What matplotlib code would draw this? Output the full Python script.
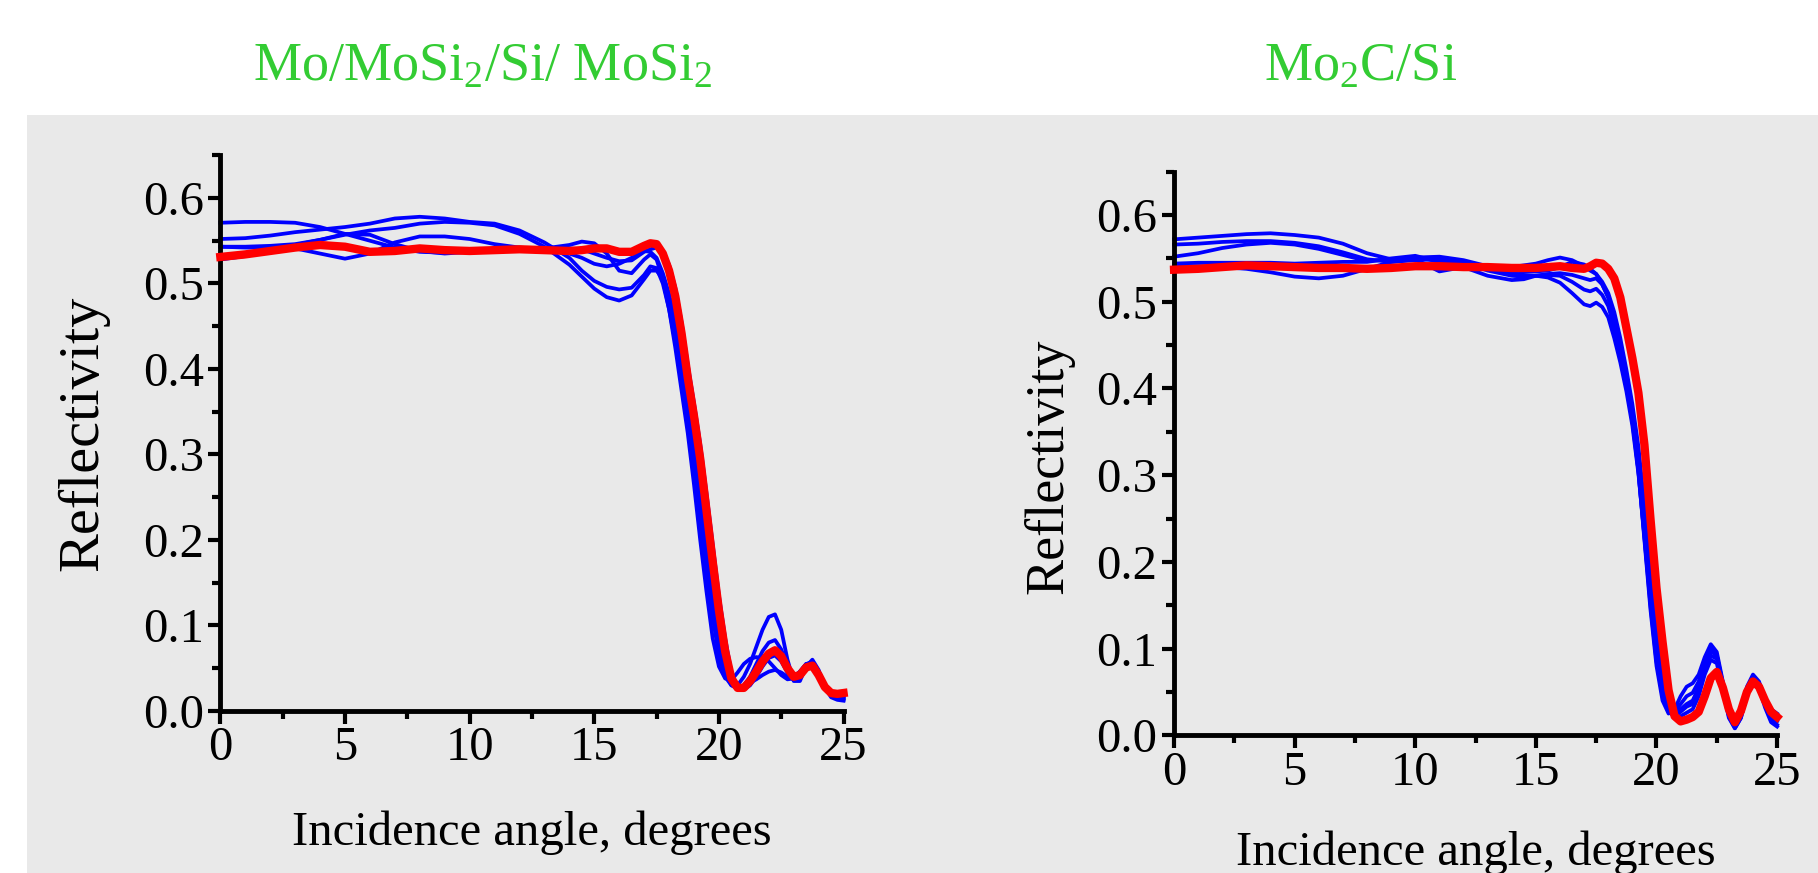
import matplotlib.pyplot as plt
from matplotlib.patches import Rectangle
from matplotlib.ticker import MultipleLocator

# Times-like font for everything, subscripts through mathtext
plt.rcParams['font.family'] = ['Liberation Serif', 'DejaVu Serif']
plt.rcParams['mathtext.fontset'] = 'custom'
plt.rcParams['mathtext.rm'] = 'Liberation Serif'
plt.rcParams['mathtext.it'] = 'Liberation Serif'
plt.rcParams['mathtext.bf'] = 'Liberation Serif'

# Incidence angles (degrees), same grid for both panels
angles = [0, 1, 2, 3, 4, 5, 6, 7, 8, 9, 10, 11, 12, 13, 14,
          14.5, 15, 15.5, 16, 16.5, 17,
          17.25, 17.5, 17.75, 18, 18.25, 18.5, 18.75, 19,
          19.25, 19.5, 19.75, 20, 20.25, 20.5, 20.75, 21,
          21.25, 21.5, 21.75, 22, 22.25, 22.5, 22.75, 23,
          23.25, 23.5, 23.75, 24, 24.25, 24.5, 24.75, 25]

# Left panel: Mo/MoSi2/Si/MoSi2
left_red = [0.531, 0.534, 0.538, 0.542, 0.545, 0.543, 0.537, 0.538, 0.541, 0.539, 0.538, 0.539, 0.540, 0.539, 0.538,
            0.539, 0.541, 0.541, 0.537, 0.537, 0.544,
            0.547, 0.546, 0.535, 0.515, 0.485, 0.442, 0.390, 0.345,
            0.295, 0.235, 0.175, 0.118, 0.070, 0.038, 0.027, 0.027,
            0.035, 0.046, 0.058, 0.067, 0.071, 0.064, 0.050, 0.040,
            0.042, 0.051, 0.053, 0.042, 0.028, 0.021, 0.020, 0.021]
left_blue_1 = [0.571, 0.572, 0.572, 0.571, 0.566, 0.558, 0.550, 0.542, 0.537, 0.536, 0.538, 0.539, 0.540, 0.541, 0.545,
               0.549, 0.547, 0.535, 0.515, 0.512, 0.528,
               0.534, 0.528, 0.505, 0.470, 0.425, 0.375, 0.325, 0.265,
               0.200, 0.140, 0.085, 0.052, 0.038, 0.036, 0.045, 0.055,
               0.061, 0.063, 0.062, 0.058, 0.050, 0.042, 0.037, 0.038,
               0.046, 0.055, 0.056, 0.045, 0.030, 0.018, 0.014, 0.013]
left_blue_2 = [0.552, 0.553, 0.556, 0.560, 0.563, 0.566, 0.570, 0.576, 0.578, 0.576, 0.572, 0.570, 0.562, 0.548, 0.530,
               0.515, 0.503, 0.496, 0.493, 0.495, 0.510,
               0.520, 0.518, 0.500, 0.470, 0.432, 0.385, 0.335, 0.285,
               0.225, 0.165, 0.110, 0.065, 0.040, 0.030, 0.030, 0.040,
               0.055, 0.075, 0.095, 0.110, 0.113, 0.095, 0.060, 0.035,
               0.035, 0.052, 0.060, 0.048, 0.028, 0.016, 0.013, 0.012]
left_blue_3 = [0.543, 0.543, 0.544, 0.546, 0.551, 0.557, 0.562, 0.565, 0.570, 0.572, 0.571, 0.568, 0.558, 0.543, 0.522,
               0.508, 0.494, 0.484, 0.480, 0.486, 0.505,
               0.515, 0.515, 0.505, 0.482, 0.450, 0.405, 0.355, 0.305,
               0.250, 0.190, 0.130, 0.080, 0.045, 0.030, 0.026, 0.030,
               0.040, 0.055, 0.070, 0.080, 0.083, 0.072, 0.052, 0.040,
               0.043, 0.054, 0.058, 0.046, 0.030, 0.020, 0.017, 0.016]
left_blue_4 = [0.528, 0.532, 0.539, 0.541, 0.535, 0.529, 0.535, 0.548, 0.555, 0.555, 0.552, 0.546, 0.542, 0.540, 0.535,
               0.530, 0.523, 0.520, 0.523, 0.530, 0.538,
               0.537, 0.530, 0.512, 0.488, 0.455, 0.415, 0.368, 0.322,
               0.270, 0.210, 0.150, 0.095, 0.055, 0.033, 0.026, 0.029,
               0.033, 0.037, 0.042, 0.046, 0.048, 0.045, 0.040, 0.040,
               0.046, 0.055, 0.057, 0.045, 0.030, 0.020, 0.017, 0.016]
left_blue_5 = [0.543, 0.542, 0.542, 0.545, 0.551, 0.558, 0.557, 0.546, 0.538, 0.535, 0.537, 0.539, 0.540, 0.541, 0.541,
               0.540, 0.535, 0.530, 0.526, 0.527, 0.537,
               0.540, 0.542, 0.537, 0.522, 0.495, 0.455, 0.405, 0.360,
               0.312, 0.255, 0.195, 0.135, 0.085, 0.045, 0.028, 0.025,
               0.030, 0.040, 0.052, 0.062, 0.065, 0.058, 0.045, 0.036,
               0.038, 0.050, 0.056, 0.046, 0.030, 0.019, 0.016, 0.015]

# Right panel: Mo2C/Si
right_red = [0.537, 0.538, 0.540, 0.542, 0.541, 0.540, 0.539, 0.539, 0.538, 0.539, 0.541, 0.541, 0.540, 0.540, 0.539,
             0.539, 0.539, 0.540, 0.541, 0.539, 0.538,
             0.541, 0.545, 0.544, 0.538, 0.527, 0.505, 0.470, 0.435,
             0.395, 0.335, 0.250, 0.170, 0.108, 0.052, 0.022, 0.016,
             0.018, 0.021, 0.027, 0.045, 0.066, 0.073, 0.055, 0.030,
             0.015, 0.028, 0.050, 0.062, 0.056, 0.040, 0.027, 0.021]
right_blue_1 = [0.572, 0.574, 0.576, 0.578, 0.579, 0.577, 0.574, 0.567, 0.556, 0.549, 0.551, 0.552, 0.548, 0.541, 0.536,
                0.535, 0.535, 0.536, 0.540, 0.546, 0.543,
                0.538, 0.532, 0.520, 0.505, 0.480, 0.448, 0.412, 0.368,
                0.305, 0.225, 0.145, 0.080, 0.040, 0.025, 0.030, 0.045,
                0.056, 0.060, 0.070, 0.090, 0.105, 0.096, 0.062, 0.028,
                0.013, 0.028, 0.056, 0.070, 0.062, 0.042, 0.030, 0.025]
right_blue_2 = [0.566, 0.567, 0.569, 0.570, 0.570, 0.568, 0.564, 0.557, 0.549, 0.546, 0.548, 0.549, 0.545, 0.536, 0.530,
                0.529, 0.530, 0.531, 0.530, 0.523, 0.514,
                0.512, 0.515, 0.508, 0.495, 0.470, 0.440, 0.405, 0.362,
                0.305, 0.228, 0.150, 0.085, 0.045, 0.028, 0.027, 0.036,
                0.045, 0.049, 0.062, 0.085, 0.100, 0.092, 0.058, 0.024,
                0.010, 0.024, 0.052, 0.066, 0.058, 0.036, 0.020, 0.016]
right_blue_3 = [0.552, 0.556, 0.562, 0.566, 0.568, 0.566, 0.561, 0.554, 0.547, 0.549, 0.551, 0.547, 0.546, 0.540, 0.533,
                0.531, 0.530, 0.528, 0.522, 0.510, 0.497,
                0.495, 0.499, 0.494, 0.482, 0.458, 0.430, 0.397, 0.357,
                0.302, 0.230, 0.155, 0.088, 0.047, 0.027, 0.022, 0.027,
                0.033, 0.036, 0.050, 0.075, 0.092, 0.088, 0.055, 0.022,
                0.008, 0.020, 0.046, 0.060, 0.054, 0.032, 0.015, 0.010]
right_blue_4 = [0.544, 0.545, 0.545, 0.545, 0.545, 0.544, 0.545, 0.546, 0.546, 0.550, 0.553, 0.546, 0.545, 0.538, 0.540,
                0.542, 0.544, 0.548, 0.551, 0.548, 0.541,
                0.536, 0.532, 0.523, 0.510, 0.488, 0.458, 0.422, 0.382,
                0.333, 0.265, 0.185, 0.115, 0.062, 0.032, 0.024, 0.030,
                0.036, 0.040, 0.055, 0.080, 0.097, 0.092, 0.060, 0.027,
                0.012, 0.025, 0.052, 0.066, 0.060, 0.040, 0.026, 0.022]
right_blue_5 = [0.541, 0.541, 0.540, 0.538, 0.534, 0.529, 0.527, 0.530, 0.538, 0.546, 0.549, 0.535, 0.540, 0.530, 0.525,
                0.526, 0.530, 0.532, 0.533, 0.531, 0.527,
                0.525, 0.527, 0.520, 0.505, 0.482, 0.452, 0.415, 0.375,
                0.322, 0.250, 0.170, 0.102, 0.055, 0.030, 0.020, 0.022,
                0.026, 0.030, 0.045, 0.070, 0.087, 0.083, 0.052, 0.020,
                0.008, 0.020, 0.048, 0.062, 0.056, 0.036, 0.018, 0.012]

left_title = r'Mo/MoSi$_2$/Si/ MoSi$_2$'
right_title = r'Mo$_2$C/Si'
x_label = 'Incidence angle, degrees'
y_label = 'Reflectivity'

GREEN = '#33cc33'
BLUE = '#0000ff'
RED = '#ff0000'

fig = plt.figure(figsize=(18.18, 8.73), dpi=100)

# grey slide background under both plots (kept behind the axes)
fig.patches.append(Rectangle((0.0149, 0), 0.9851, 0.8683, transform=fig.transFigure,
                             facecolor='#e9e9e9', edgecolor='none', zorder=-10))


def draw_panel(rect, blues, red, xpad, ysize, ypad, ypos):
    ax = fig.add_axes(rect)
    ax.set_facecolor('none')
    for b in blues:
        ax.plot(angles, b, color=BLUE, lw=2.7, clip_on=False, zorder=2)
    ax.plot(angles, red, color=RED, lw=6, clip_on=False, zorder=3)

    ax.set_xlim(0, 25)
    ax.set_ylim(0, 0.65)
    ax.xaxis.set_major_locator(MultipleLocator(5))
    ax.xaxis.set_minor_locator(MultipleLocator(2.5))
    ax.yaxis.set_minor_locator(MultipleLocator(0.05))
    ax.set_yticks([0, 0.1, 0.2, 0.3, 0.4, 0.5, 0.6])
    ax.set_yticklabels(['0.0', '0.1', '0.2', '0.3', '0.4', '0.5', '0.6'])

    # only left and bottom axis lines, thick and black
    ax.spines['top'].set_visible(False)
    ax.spines['right'].set_visible(False)
    for s in ('left', 'bottom'):
        ax.spines[s].set_linewidth(3.5)
    ax.tick_params(which='major', direction='out', length=9, width=3, labelsize=35)
    ax.tick_params(which='minor', direction='out', length=5.5, width=3)
    ax.tick_params(axis='x', which='major', pad=2)
    ax.tick_params(axis='y', which='major', pad=3)

    ax.set_xlabel(x_label, fontsize=35, labelpad=xpad)
    ax.set_ylabel(y_label, fontsize=ysize, labelpad=ypad, y=ypos)
    return ax


ax1 = draw_panel([0.1212, 0.1856, 0.3428, 0.6366],
                 [left_blue_1, left_blue_2, left_blue_3, left_blue_4, left_blue_5], left_red,
                 29, 42, 24, 0.5)
ax2 = draw_panel([0.6458, 0.1578, 0.3317, 0.6455],
                 [right_blue_1, right_blue_2, right_blue_3, right_blue_4, right_blue_5], right_red,
                 26, 39, 16, 0.477)

# green titles above the plots
fig.text(0.2657, 1 - 80 / 873, left_title, color=GREEN, fontsize=39, ha='center', va='baseline')
fig.text(0.7481, 1 - 80 / 873, right_title, color=GREEN, fontsize=39, ha='center', va='baseline')

fig.savefig('out.png', dpi=100)
